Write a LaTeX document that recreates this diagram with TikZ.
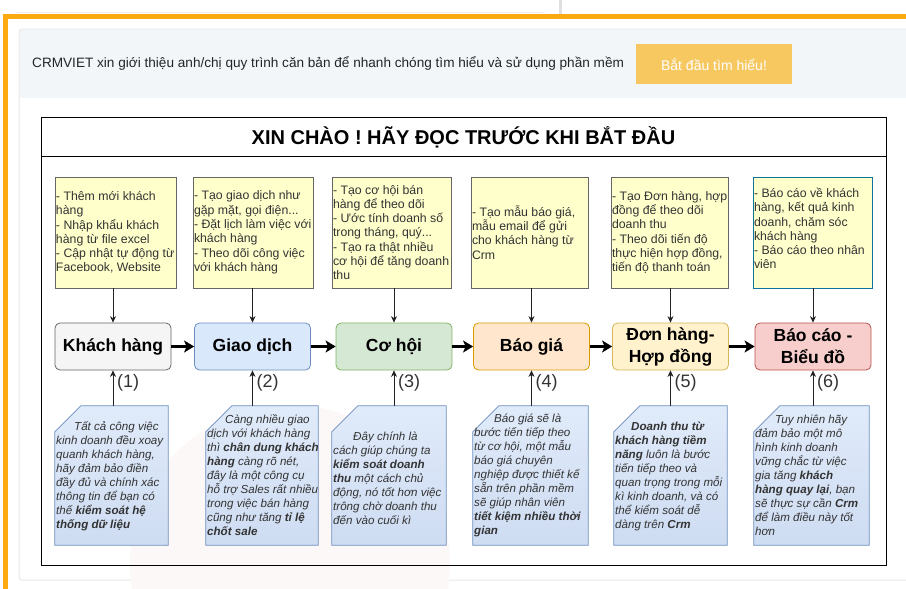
\documentclass[tikz,border=0pt]{standalone}
\usepackage{fontspec}
\setmainfont{Liberation Sans}
\usetikzlibrary{arrows.meta}
\pgfdeclarelayer{bg}
\pgfdeclarelayer{mid}
\pgfsetlayers{bg,mid,main}
\definecolor{orangeB}{HTML}{FDAA12}
\definecolor{bandC}{HTML}{F3F6F9}
\definecolor{cardLine}{HTML}{E6E8EB}
\definecolor{btnC}{HTML}{F6C85F}
\definecolor{introC}{HTML}{212529}
\definecolor{noteY}{HTML}{FFFFCC}
\definecolor{noteB}{HTML}{666666}
\definecolor{noteB6}{HTML}{10739E}
\definecolor{txtC}{HTML}{333333}
\definecolor{arrC}{HTML}{222222}
\definecolor{cardT}{HTML}{E0EBFA}
\definecolor{cardBt}{HTML}{CEDCF2}
\definecolor{cardE}{HTML}{6C8EBF}
\definecolor{pinkW}{HTML}{FDF8F8}
\definecolor{fA}{HTML}{F5F5F5}\definecolor{dA}{HTML}{666666}
\definecolor{fB}{HTML}{DAE8FC}\definecolor{dB}{HTML}{6C8EBF}
\definecolor{fC}{HTML}{D5E8D4}\definecolor{dC}{HTML}{82B366}
\definecolor{fD}{HTML}{FFE6CC}\definecolor{dD}{HTML}{D79B00}
\definecolor{fE}{HTML}{FFF2CC}\definecolor{dE}{HTML}{D6B656}
\definecolor{fF}{HTML}{F8CECC}\definecolor{dF}{HTML}{B85450}
\newcommand\fTop{\fontsize{12.3}{14.3}\selectfont}
\newcommand\fBot{\fontsize{11.6}{14}\selectfont\itshape}
\newcommand\fMain{\fontsize{17.5}{22}\selectfont\bfseries}
\begin{document}
\begin{tikzpicture}[x=1pt,y=-1pt,
  tnote/.style={draw=noteB, fill=noteY, line width=0.8pt, minimum height=111pt, inner sep=0pt},
  ttext/.style={anchor=west, align=left, inner sep=0pt, text=txtC, font=\fTop},
  btext/.style={anchor=west, align=left, inner sep=0pt, text=txtC, font=\fBot},
  bnote/.style={minimum height=139pt, inner sep=0pt},
  mbox/.style={draw, rounded corners=5pt, line width=0.8pt, minimum width=116pt, minimum height=47pt, align=center, font=\fMain, inner sep=0pt},
  thinarr/.style={draw=arrC, line width=0.8pt, -{Stealth[length=6.5pt,width=6pt]}},
  bigarr/.style={draw=black, line width=3pt, -{Stealth[length=10pt,width=12pt,inset=2.5pt]}},
  lbl/.style={anchor=west, inner sep=0pt, font=\fontsize{18}{20}\selectfont, text=txtC}]
\useasboundingbox (0,0) rectangle (906,589);

% ---------- page background ----------
\begin{pgfonlayer}{bg}
\fill[white] (0,0) rectangle (906,589);
\draw[gray!12, line width=1pt] (15,12) -- (545,12);
\draw[gray!25, line width=3pt] (560,0) -- (560,14);
\fill[orangeB] (3,14) rectangle (906,19);
\fill[orangeB] (3,14) rectangle (8,589);
\draw[cardLine, fill=white, rounded corners=3pt, line width=1pt] (19,29) rectangle (930,580);
\fill[bandC] (19.5,29.5) rectangle (906,98);
\begin{scope}
\clip (19.5,98) rectangle (906,589);
\fill[pinkW] (290,565) circle (160);
\end{scope}
\draw[black, line width=1pt] (41,117) rectangle (886,565);
\draw[black, line width=1pt] (41,156.5) -- (886,156.5);
\end{pgfonlayer}

% ---------- header ----------
\node[anchor=west, inner sep=0pt, text=introC, font=\fontsize{13.6}{16}\selectfont] (intro) at (32,63.5)
  {CRMVIET xin giới thiệu anh/chị quy trình căn bản để nhanh chóng tìm hiểu và sử dụng phần mềm};
\node[fill=btnC, minimum width=156pt, minimum height=40pt, inner sep=0pt, text=white,
  font=\fontsize{14}{16}\selectfont] (btn) at (714,64) {Bắt đầu tìm hiểu!};
\node[font=\fontsize{20}{24}\selectfont\bfseries, inner sep=0pt] (title) at (463.5,137.5)
  {XIN CHÀO ! HÃY ĐỌC TRƯỚC KHI BẮT ĐẦU};

% ---------- top notes ----------
\node[tnote, minimum width=121pt] (t1) at (115.5,232.5) {};
\node[tnote, minimum width=120pt] (t2) at (253,232.5) {};
\node[tnote, minimum width=119pt] (t3) at (391.5,232.5) {};
\node[tnote, minimum width=117pt] (t4) at (529.5,232.5) {};
\node[tnote, minimum width=117pt] (t5) at (669.5,232.5) {};
\node[tnote, draw=noteB6, minimum width=119pt] (t6) at (812.5,232.5) {};
\node[ttext] (t1x) at ([xshift=1.2pt]t1.west) {- Thêm mới khách\\hàng\\- Nhập khẩu khách\\hàng từ file excel\\- Cập nhật tự động từ\\Facebook, Website};
\node[ttext] (t2x) at ([xshift=1.2pt]t2.west) {- Tạo giao dịch như\\gặp mặt, gọi điện...\\- Đặt lịch làm việc với\\khách hàng\\- Theo dõi công việc\\với khách hàng};
\node[ttext] (t3x) at ([xshift=1.2pt]t3.west) {- Tạo cơ hội bán\\hàng để theo dõi\\- Ước tính doanh số\\trong tháng, quý...\\- Tạo ra thật nhiều\\cơ hội để tăng doanh\\thu};
\node[ttext] (t4x) at ([xshift=1.2pt]t4.west) {- Tạo mẫu báo giá,\\mẫu email để gửi\\cho khách hàng từ\\Crm};
\node[ttext] (t5x) at ([xshift=1.2pt]t5.west) {- Tạo Đơn hàng, hợp\\đồng để theo dõi\\doanh thu\\- Theo dõi tiến độ\\thực hiện hợp đồng,\\tiến độ thanh toán};
\node[ttext] (t6x) at ([xshift=1.2pt,yshift=4pt]t6.west) {- Báo cáo về khách\\hàng, kết quả kinh\\doanh, chăm sóc\\khách hàng\\- Báo cáo theo nhân\\viên};

% ---------- main steps ----------
\node[mbox, fill=fA, draw=dA] (k1) at (113,346.5) {Khách hàng};
\node[mbox, fill=fB, draw=dB] (k2) at (252.5,346.5) {Giao dịch};
\node[mbox, fill=fC, draw=dC] (k3) at (394,346.5) {Cơ hội};
\node[mbox, fill=fD, draw=dD] (k4) at (531.5,346.5) {Báo giá};
\node[mbox, fill=fE, draw=dE] (k5) at (670.5,346.5) {Đơn hàng-\\Hợp đồng};
\node[mbox, fill=fF, draw=dF] (k6) at (813,346.5) {Báo cáo -\\Biểu đồ};

\draw[bigarr] (k1) -- (k2);
\draw[bigarr] (k2) -- (k3);
\draw[bigarr] (k3) -- (k4);
\draw[bigarr] (k4) -- (k5);
\draw[bigarr] (k5) -- (k6);

\foreach \i in {1,...,6} {
  \draw[thinarr] (t\i.south -| k\i.north) -- (k\i.north);
}

% ---------- bottom notes ----------
\node[bnote, minimum width=113pt] (b1) at (111.5,475.5) {};
\node[bnote, minimum width=112pt] (b2) at (262,475.5) {};
\node[bnote, minimum width=114pt] (b3) at (389,475.5) {};
\node[bnote, minimum width=115pt] (b4) at (530.5,475.5) {};
\node[bnote, minimum width=113pt] (b5) at (670.5,475.5) {};
\node[bnote, minimum width=115pt] (b6) at (811.5,475.5) {};
\begin{pgfonlayer}{mid}
\foreach \n in {b1,b2,b3,b4,b5,b6} {
  \shadedraw[top color=cardT, bottom color=cardBt, draw=cardE, line width=0.8pt]
    ([xshift=26pt]\n.north west) -- (\n.north east) -- (\n.south east) -- (\n.south west)
    -- ([yshift=-26pt]\n.north west) -- cycle;
}
\end{pgfonlayer}
\node[btext] (b1x) at ([xshift=1.2pt,yshift=-1pt]b1.west) {\hspace*{18pt}Tất cả công việc\\kinh doanh đều xoay\\quanh khách hàng,\\hãy đảm bảo điền\\đầy đủ và chính xác\\thông tin để bạn có\\thế \textbf{kiểm soát hệ}\\\textbf{thống dữ liệu}};
\node[btext] (b2x) at ([xshift=1.2pt]b2.west) {\hspace*{18pt}Càng nhiều giao\\dịch với khách hàng\\thì \textbf{chân dung khách}\\\textbf{hàng} càng rõ nét,\\đây là một công cụ\\hỗ trợ Sales rất nhiều\\trong việc bán hàng\\cũng như tăng \textbf{tỉ lệ}\\\textbf{chốt sale}};
\node[btext] (b3x) at ([xshift=1.2pt,yshift=-3pt]b3.west) {\hspace*{20pt}Đây chính là\\cách giúp chúng ta\\\textbf{kiểm soát doanh}\\\textbf{thu} một cách chủ\\động, nó tốt hơn việc\\trông chờ doanh thu\\đến vào cuối kì};
\node[btext] (b4x) at ([xshift=1.2pt]b4.west) {\hspace*{20pt}Báo giá sẽ là\\bước tiến tiếp theo\\từ cơ hội, một mẫu\\báo giá chuyên\\nghiệp được thiết kế\\sẵn trên phần mềm\\sẽ giúp nhân viên\\\textbf{tiết kiệm nhiều thời}\\\textbf{gian}};
\node[btext] (b5x) at ([xshift=1.2pt,yshift=-1pt]b5.west) {\hspace*{16pt}\textbf{Doanh thu từ}\\\textbf{khách hàng tiềm}\\\textbf{năng} luôn là bước\\tiến tiếp theo và\\quan trọng trong mỗi\\kì kinh doanh, và có\\thể kiểm soát dễ\\dàng trên \textbf{Crm}};
\node[btext] (b6x) at ([xshift=1.2pt]b6.west) {\hspace*{20pt}Tuy nhiên hãy\\đảm bảo một mô\\hình kinh doanh\\vững chắc từ việc\\gia tăng \textbf{khách}\\\textbf{hàng quay lại}, bạn\\sẽ thực sự cần \textbf{Crm}\\để làm điều này tốt\\hơn};

\foreach \i in {1,...,6} {
  \draw[thinarr] (b\i.north -| k\i.south) -- (k\i.south);
  \node[lbl] (l\i) at ([xshift=4pt,yshift=-12.5pt]k\i.south) {(\i)};
}
\end{tikzpicture}
\end{document}
